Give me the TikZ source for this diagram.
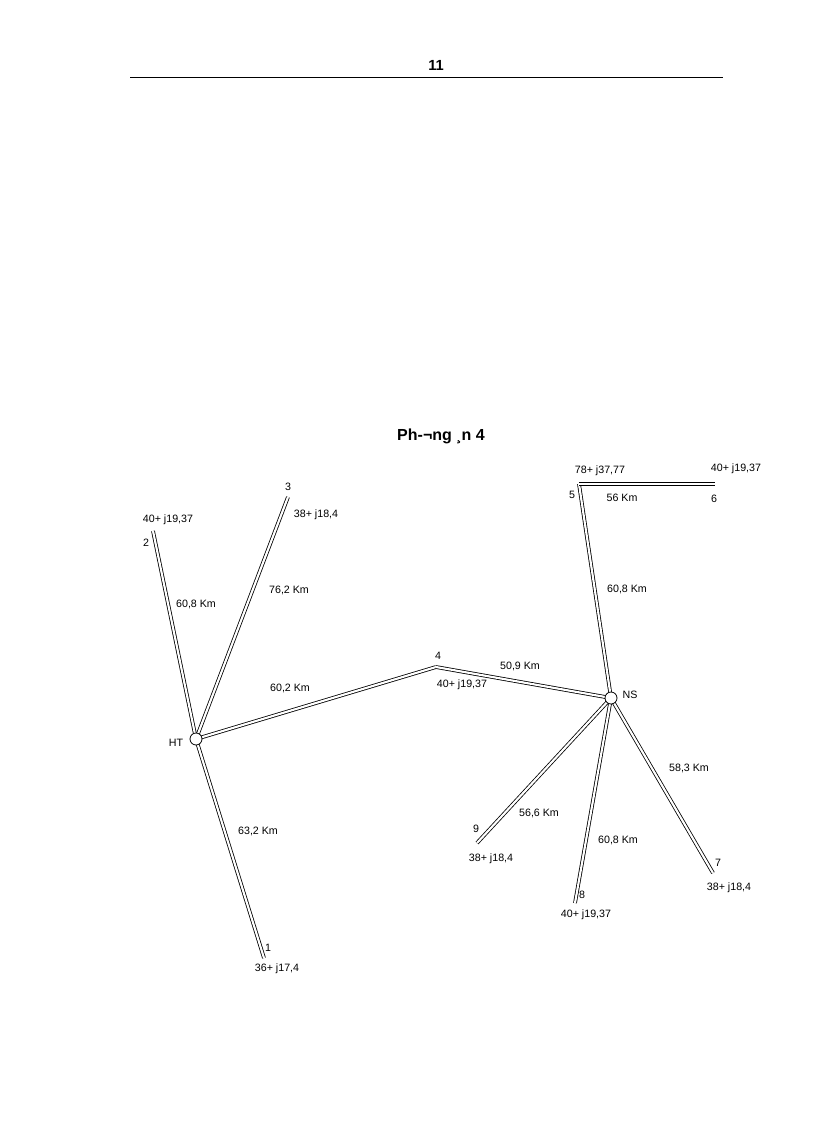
\documentclass[tikz,border=0pt]{standalone}
\usepackage{fontspec}
\setmainfont{Liberation Sans}
\begin{document}
\begin{tikzpicture}[x=0.75pt,y=-0.75pt,
  ln/.style={draw=black,double=white,double distance=1.6pt,line width=0.6pt},
  bus/.style={circle,draw,fill=white,inner sep=0pt,minimum size=9pt,line width=0.6pt},
  pt/.style={inner sep=0pt,minimum size=2pt},
  lb/.style={font=\fontsize{8}{9}\selectfont,inner sep=1pt}]
\useasboundingbox (0,0) rectangle (816,1123);
\node[font=\bfseries\fontsize{11}{12}\selectfont] (pg) at (436,65) {11};
\coordinate (r1) at (130,77); \coordinate (r2) at (723,77);
\draw[line width=0.6pt] (r1) -- (r2);
\node[font=\bfseries\fontsize{12}{14}\selectfont] (title) at (441,436) {Ph-¬ng ¸n 4};
\coordinate (n1) at (264,958);
\coordinate (n2) at (153,531);
\coordinate (n3) at (288,497);
\coordinate (n4) at (436,667);
\coordinate (n5) at (579,484);
\coordinate (n6) at (715,484);
\coordinate (n7) at (713,873);
\coordinate (n8) at (575,903);
\coordinate (n9) at (477,843);
\coordinate (ht) at (196,739);
\coordinate (ns) at (611,698);
\foreach \a/\b in {ht/n1,ht/n2,ht/n3,ht/n4,n4/ns,ns/n5,n5/n6,ns/n7,ns/n8,ns/n9}
  \draw[ln] (\a) -- (\b);
\node[bus] (HT) at (ht) {};
\node[bus] (NS) at (ns) {};
\node[lb] at (176,743) {HT};
\node[lb] at (630,695) {NS};
\node[lb] at (268,948) {1};
\node[lb] at (277,969) {36+ j17,4};
\node[lb] at (146,543) {2};
\node[lb] at (168,520) {40+ j19,37};
\node[lb] at (288,487) {3};
\node[lb] at (316,515) {38+ j18,4};
\node[lb] at (438,656) {4};
\node[lb] at (462,685) {40+ j19,37};
\node[lb] at (572,495) {5};
\node[lb] at (600,471) {78+ j37,77};
\node[lb] at (714,499) {6};
\node[lb] at (736,469) {40+ j19,37};
\node[lb] at (718,863) {7};
\node[lb] at (729,888) {38+ j18,4};
\node[lb] at (582,895) {8};
\node[lb] at (586,915) {40+ j19,37};
\node[lb] at (476,829) {9};
\node[lb] at (491,859) {38+ j18,4};
\node[lb] at (196,604) {60,8 Km};
\node[lb] at (289,590) {76,2 Km};
\node[lb] at (290,688) {60,2 Km};
\node[lb] at (520,666) {50,9 Km};
\node[lb] at (622,498) {56 Km};
\node[lb] at (627,589) {60,8 Km};
\node[lb] at (689,768) {58,3 Km};
\node[lb] at (539,813) {56,6 Km};
\node[lb] at (618,840) {60,8 Km};
\node[lb] at (258,831) {63,2 Km};
\end{tikzpicture}
\end{document}
